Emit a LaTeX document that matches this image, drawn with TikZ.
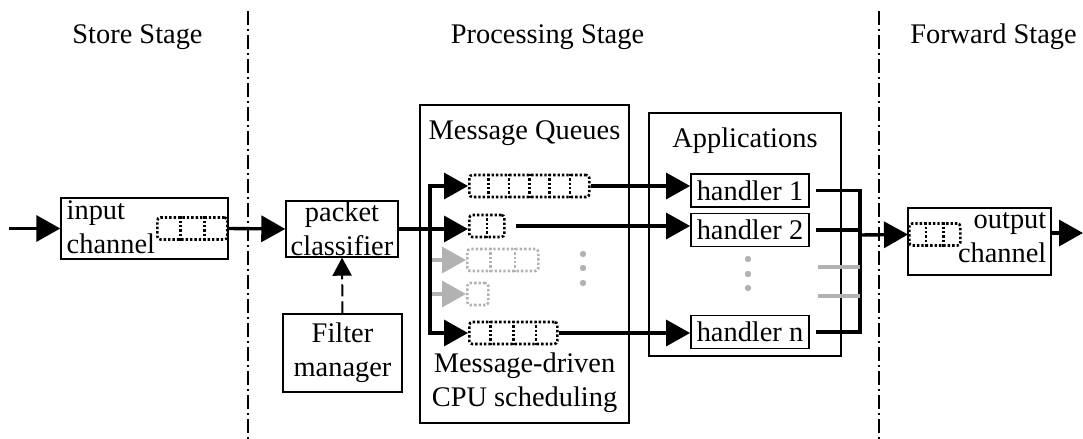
\documentclass[tikz,border=0pt]{standalone}
\usepackage{fontspec}
\setmainfont{Liberation Serif}
\usepackage{tikz}
\usetikzlibrary{arrows.meta, calc}

% dotted message queue: name, point, anchor, width, cells, colour
\newcommand{\mqueue}[6]{%
  \node[queue, draw=#6, minimum width=#4, anchor=#3] (#1) at (#2) {};
  \ifnum#5>1
    \foreach \k [evaluate=\k as \f using (\k-1)/#5] in {2,...,#5}
      \draw[queue, draw=#6] ($(#1.north west)!\f!(#1.north east)$) -- ($(#1.south west)!\f!(#1.south east)$);
  \fi}

\begin{document}
\begin{tikzpicture}[x=0.5pt, y=-0.5pt,
        every node/.style={font=\fontsize{14.2}{17}\selectfont},
        box/.style={draw, line width=0.7pt, inner sep=0pt, align=center},
        hbox/.style={draw, line width=0.9pt, inner sep=0pt, minimum width=59pt, minimum height=16.5pt},
        queue/.style={line width=1.3pt, dash pattern=on 1.2pt off 1pt, rounded corners=1.5pt,
                      inner sep=0pt, minimum height=11pt},
        flow/.style={-{Triangle[length=12pt, width=13pt]}, line width=1.7pt},
        link/.style={line width=1.7pt},
        gflow/.style={flow, draw=black!30},
        ctrl/.style={-{Triangle[length=9pt, width=9.5pt]}, line width=1pt, dash pattern=on 6pt off 2.5pt},
        stage/.style={line width=0.6pt, dash pattern=on 7pt off 2pt on 1pt off 2pt},
        dot/.style={black!30}
      ]
        \useasboundingbox (0,0) rectangle (1083,439);

        % stages
        \node[anchor=base] (st1) at (137.5,43) {Store Stage};
        \node[anchor=base] (st2) at (547.5,43) {Processing Stage};
        \node[anchor=base] (st3) at (993.5,43) {Forward Stage};
        \draw[stage] (248,11) -- (248,439);
        \draw[stage] (879,11) -- (879,439);

        % store stage
        \node[box, minimum width=83.5pt, minimum height=30.5pt] (inp) at (144.5,228.5) {};
        \node[anchor=base west, inner sep=0pt, align=left] (inptxt)
          at ([xshift=3pt, yshift=-28pt]inp.north west) {input\\channel};
        \mqueue{iq}{inp.east}{east}{35pt}{3}{black}
        \coordinate (src) at (9,228.5);
        \draw[flow] (src) -- (inp.west);

        % processing stage
        \node[box, minimum width=56pt, minimum height=28pt] (pc) at (342,229) {packet\\classifier};
        \node[box, minimum width=59.5pt, minimum height=39pt] (fm) at (342.5,353) {Filter\\manager};
        \draw[flow] (inp.east) -- (pc.west);
        \draw[ctrl] (fm.north) -- (pc.south);

        \node[box, minimum width=104.5pt, minimum height=159pt] (mq) at (524.5,264) {};
        \node[anchor=base] (mqtitle) at ([yshift=-17.5pt]mq.north) {Message Queues};
        \node[anchor=south, inner sep=0pt, align=center] (sched)
          at ([yshift=5.5pt]mq.south) {Message-driven\\CPU scheduling};

        \mqueue{q1}{468,186}{west}{60pt}{6}{black}
        \mqueue{q2}{468,226}{west}{17.5pt}{2}{black}
        \mqueue{q3}{466,260}{west}{35.5pt}{3}{black!30}
        \mqueue{q4}{466,294}{west}{10.5pt}{1}{black!30}
        \mqueue{q5}{468,333}{west}{44pt}{4}{black}
        \foreach \y in {254,268,283} \fill[dot] (583,\y) circle (1.6pt);

        \coordinate (spl) at (430,226);
        \draw[flow] (pc.east) -- (pc.east -| q2.west);
        \draw[flow, {Triangle[length=12pt, width=13pt]}-{Triangle[length=12pt, width=13pt]}]
          (q1.west) -- (q1.west -| spl) -- (q5.west -| spl) -- (q5.west);
        \draw[gflow] ([xshift=1pt]q3.west -| spl) -- (q3.west);
        \draw[gflow] ([xshift=1pt]q4.west -| spl) -- (q4.west);

        \node[box, minimum width=96pt, minimum height=121.5pt] (app) at (745,234.5) {};
        \node[anchor=base] (apptitle) at ([yshift=-17.5pt]app.north) {Applications};
        \node[hbox] (h1) at (750,190.5) {handler 1};
        \node[hbox] (h2) at (750,230) {handler 2};
        \node[hbox] (hn) at (750,332) {handler n};
        \foreach \y in {259,274,288} \fill[dot] (748,\y) circle (1.6pt);

        \draw[flow] (q1.east) -- (q1.east -| h1.west);
        \draw[flow] ([xshift=5pt]q2.east) -- (q2.east -| h2.west);
        \draw[flow] (q5.east) -- (q5.east -| hn.west);

        % forward stage
        \coordinate (mrg) at (860,235);
        \draw[link] ([xshift=3pt]h1.east) -- (h1.east -| mrg) -- (hn.east -| mrg) -- ([xshift=3pt]hn.east);
        \draw[link] ([xshift=3pt]h2.east) -- (h2.east -| mrg);
        \coordinate (g1) at (818,267);
        \coordinate (g2) at (818,296);
        \draw[link, draw=black!30] (g1) -- (g1 -| mrg);
        \draw[link, draw=black!30] (g2) -- (g2 -| mrg);

        \node[box, minimum width=71.5pt, minimum height=33.5pt] (outp) at (979.5,241.5) {};
        \node[anchor=base east, inner sep=0pt, align=right] (outtxt)
          at ([xshift=-2.5pt, yshift=-27.5pt]outp.north east) {output\\channel};
        \mqueue{oq}{908,234.5}{west}{25.5pt}{3}{black}
        \draw[flow] (mrg) -- (oq.west);
        \coordinate (snk) at (1083,233);
        \draw[flow] (outp.east |- snk) -- (snk);
      \end{tikzpicture}
\end{document}
